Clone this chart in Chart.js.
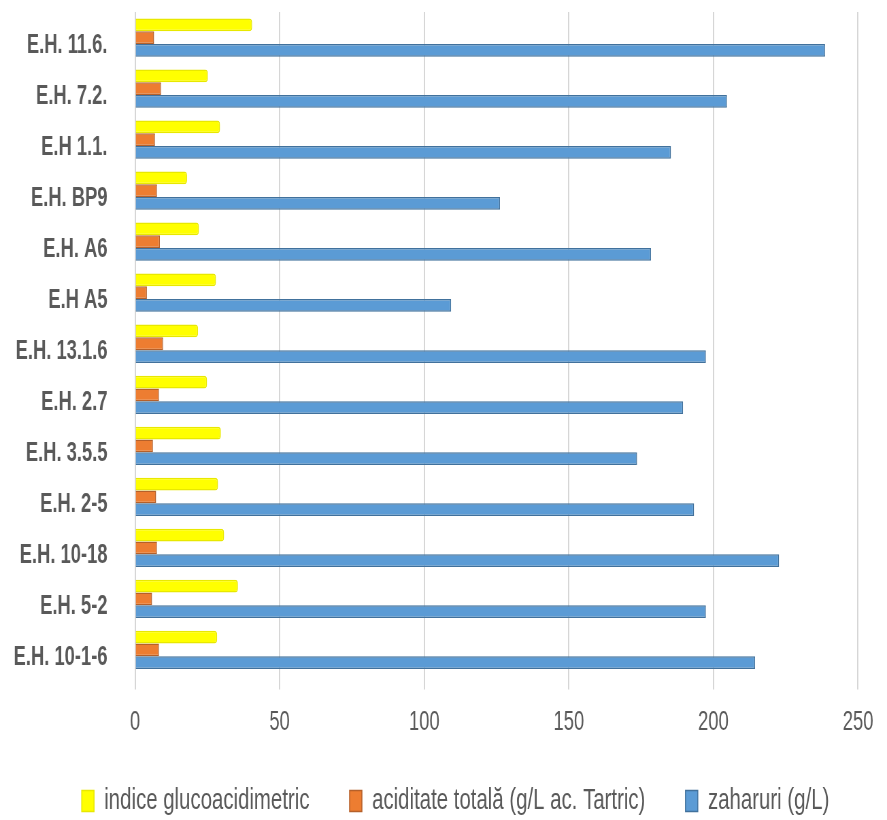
<!DOCTYPE html>
<html>
<head>
<meta charset="utf-8">
<script src="https://cdn.jsdelivr.net/npm/chart.js@4/dist/chart.umd.min.js"></script>
<style>
html,body{margin:0;padding:0;background:#fff;overflow:hidden;}
#wrap{width:1304px;height:820px;transform:scaleX(0.6802);transform-origin:0 0;}
</style>
</head>
<body>
<div id="wrap"><canvas id="c" width="1304" height="820"></canvas></div>
<script>
const categories = ["E.H. 11.6.", "E.H. 7.2.", "E.H 1.1.", "E.H. BP9", "E.H. A6", "E.H A5", "E.H. 13.1.6", "E.H. 2.7", "E.H. 3.5.5", "E.H. 2-5", "E.H. 10-18", "E.H. 5-2", "E.H. 10-1-6"];
const indiceGlucoacidimetric = [40.5, 25.2, 29.4, 18.0, 22.1, 28.0, 21.8, 24.9, 29.7, 28.7, 30.8, 35.6, 28.4];
const aciditateTotala = [6.6, 9.0, 6.9, 7.6, 8.6, 4.1, 9.7, 8.3, 6.2, 7.3, 7.6, 5.9, 8.3];
const zaharuri = [238.6, 204.7, 185.3, 126.2, 178.4, 109.3, 197.4, 189.5, 173.6, 193.3, 222.7, 197.4, 214.4];
const seriesNames = ["indice glucoacidimetric", "aciditate totală (g/L ac. Tartric)", "zaharuri (g/L)"];
const xTicks = [0, 50, 100, 150, 200, 250];

const FONT = "'Liberation Sans', Arial, sans-serif";

const shiftLegend = {
  id: 'shiftLegend',
  afterLayout(chart) {
    const lg = chart.legend;
    if (!lg) return;
    const dx = 39, dy = -12.5;
    lg.left += dx; lg.right += dx;
    lg.top += dy; lg.bottom += dy;
  }
};

new Chart(document.getElementById('c'), {
  type: 'bar',
  data: {
    labels: categories,
    datasets: [
      { label: seriesNames[0], data: indiceGlucoacidimetric, backgroundColor: '#FFFF00', borderColor: '#E8E800', borderWidth: 1.5, borderRadius: 4, borderSkipped: 'start' },
      { label: seriesNames[1], data: aciditateTotala, backgroundColor: '#ED7D31', borderColor: '#B5602A', borderWidth: 1.5, borderSkipped: 'start' },
      { label: seriesNames[2], data: zaharuri, backgroundColor: '#5B9BD5', borderColor: '#41719C', borderWidth: 1.5, borderSkipped: 'start' }
    ]
  },
  plugins: [shiftLegend],
  options: {
    indexAxis: 'y',
    responsive: false,
    animation: false,
    devicePixelRatio: 1,
    categoryPercentage: 0.75,
    barPercentage: 1.0,
    layout: { padding: { left: 0, right: 42.6, top: 12, bottom: -18.5 } },
    scales: {
      x: {
        min: 0, max: 250,
        afterBuildTicks: (s) => { s.ticks = xTicks.map(v => ({ value: v })); },
        afterFit: (s) => { s.height = 64; s.paddingLeft = 0; s.paddingRight = 0; },
        grid: { color: '#D6D6D6', lineWidth: 2, drawTicks: true, tickLength: 14, tickColor: '#D6D6D6' },
        border: { display: false },
        ticks: { color: '#595959', font: { family: FONT, size: 27 }, padding: 16.8 }
      },
      y: {
        afterFit: (s) => { s.width = 198.5; s.paddingTop = 0; s.paddingBottom = 0; },
        grid: { display: false },
        border: { display: false },
        ticks: { color: '#595959', font: { family: FONT, size: 27, weight: 'bold' }, padding: 32.5, labelOffset: 8 }
      }
    },
    plugins: {
      legend: {
        position: 'bottom',
        labels: {
          color: '#595959',
          font: { family: FONT, size: 30 },
          boxWidth: 18, boxHeight: 21,
          padding: 59
        }
      },
      tooltip: { enabled: false }
    }
  }
});
</script>
</body>
</html>
